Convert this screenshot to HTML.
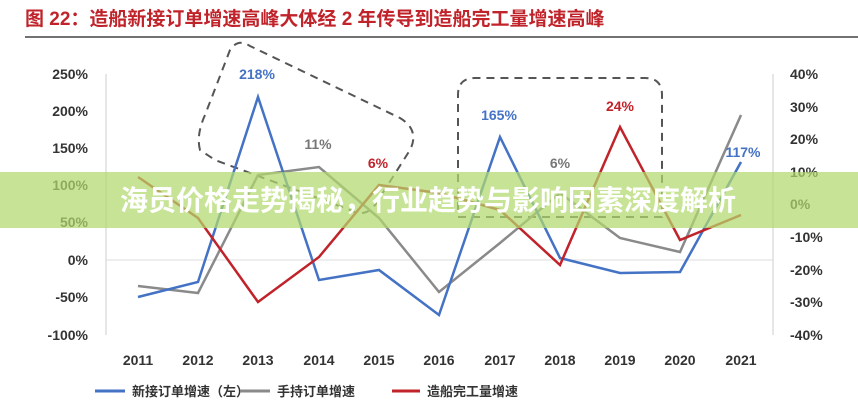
<!DOCTYPE html><html><head><meta charset="utf-8"><style>
body{margin:0;width:858px;height:400px;background:#fff;overflow:hidden;font-family:"Liberation Sans","Noto Sans CJK SC",sans-serif}
</style></head><body>
<svg width="858" height="400" style="position:absolute;left:0;top:0" font-family="Liberation Sans, Noto Sans CJK SC, sans-serif">
<text x="25" y="25" fill="#c0232a" font-size="19" font-weight="bold">图 22：造船新接订单增速高峰大体经 2 年传导到造船完工量增速高峰</text>
<line x1="25" y1="37" x2="858" y2="37" stroke="#444" stroke-width="1.5"/>
<g font-size="14" font-weight="bold" fill="#333" text-anchor="end">
<text x="88" y="79">250%</text><text x="88" y="116">200%</text><text x="88" y="153">150%</text><text x="88" y="190">100%</text><text x="88" y="227">50%</text><text x="88" y="265">0%</text><text x="88" y="302">-50%</text><text x="88" y="340">-100%</text>
</g>
<g font-size="14" font-weight="bold" fill="#333">
<text x="790" y="79">40%</text><text x="790" y="112">30%</text><text x="790" y="144">20%</text><text x="790" y="177">10%</text><text x="790" y="209">0%</text><text x="790" y="242">-10%</text><text x="790" y="275">-20%</text><text x="790" y="307">-30%</text><text x="790" y="340">-40%</text>
</g>
<line x1="106" y1="74" x2="106" y2="335" stroke="#ccc"/><line x1="773" y1="74" x2="773" y2="335" stroke="#ccc"/>
<line x1="106" y1="260" x2="773" y2="260" stroke="#ddd"/>
<g font-size="14" font-weight="bold" fill="#333" text-anchor="middle">
<text x="138" y="365">2011</text><text x="198" y="365">2012</text><text x="258" y="365">2013</text><text x="319" y="365">2014</text><text x="379" y="365">2015</text><text x="439" y="365">2016</text><text x="500" y="365">2017</text><text x="560" y="365">2018</text><text x="620" y="365">2019</text><text x="680" y="365">2020</text><text x="741" y="365">2021</text>
</g>
<g fill="none" stroke="#555" stroke-width="2" stroke-dasharray="8,6">
<path d="M200,150 Q196,135 205,115 L230,50 Q238,38 250,46 L400,118 Q420,130 410,150 L375,205 Q365,218 350,210 L215,160 Z"/>
<path d="M458,210 L458,95 Q458,78 475,78 L645,78 Q662,78 662,95 L662,218"/>
<line x1="458" y1="217" x2="662" y2="217"/>
</g>
<polyline fill="none" stroke="#8a8a8a" stroke-width="2.5" points="138,286 198,293 258,175 319,167 379,218 439,292 500,243 560,193 620,238 680,252 741,115"/>
<polyline fill="none" stroke="#4472c4" stroke-width="2.5" points="138,297 198,282 258,97 319,280 379,270 439,315 500,137 560,258 620,273 680,272 741,162"/>
<polyline fill="none" stroke="#c0232a" stroke-width="2.5" points="138,177 198,218 258,302 319,257 379,185 439,193 500,210 560,265 620,127 680,240 741,215"/>
<g font-size="14" font-weight="bold" text-anchor="middle">
<text x="257" y="79" fill="#4472c4">218%</text><text x="318" y="149" fill="#777">11%</text><text x="378" y="168" fill="#c0232a">6%</text>
<text x="499" y="120" fill="#4472c4">165%</text><text x="560" y="168" fill="#777">6%</text><text x="620" y="111" fill="#c0232a">24%</text><text x="743" y="157" fill="#4472c4">117%</text>
</g>
<rect x="0" y="172" width="858" height="56" fill="rgba(178,218,110,0.72)"/>
<text x="428" y="210" text-anchor="middle" font-size="28" font-weight="bold" fill="#fff">海员价格走势揭秘，行业趋势与影响因素深度解析</text>
<g font-size="13" font-weight="bold" fill="#333">
<line x1="95" y1="391" x2="125" y2="391" stroke="#4472c4" stroke-width="3"/><text x="132" y="396">新接订单增速（左）</text>
<line x1="240" y1="391" x2="270" y2="391" stroke="#8a8a8a" stroke-width="3"/><text x="277" y="396">手持订单增速</text>
<line x1="392" y1="391" x2="420" y2="391" stroke="#c0232a" stroke-width="3"/><text x="427" y="396">造船完工量增速</text>
</g>
</svg>
</body></html>
